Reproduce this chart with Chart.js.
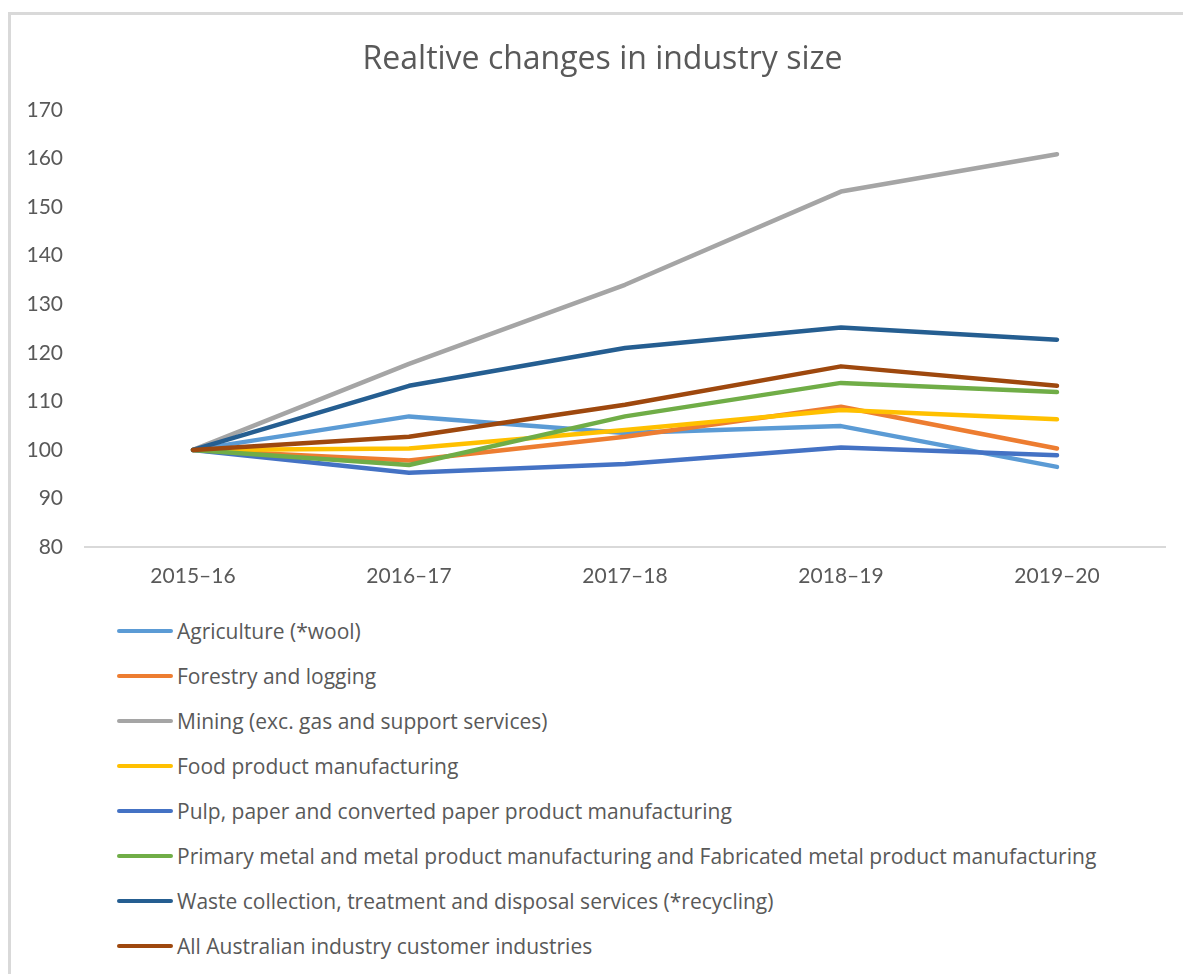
<!DOCTYPE html>
<html>
<head>
<meta charset="utf-8">
<script src="https://cdn.jsdelivr.net/npm/chart.js@4/dist/chart.umd.min.js"></script>
<style>
  html, body { margin: 0; padding: 0; background: #fff; }
  body { width: 1183px; height: 974px; position: relative; overflow: hidden; }
  #frame {
    position: absolute; left: 8px; top: 12px; right: -10px; bottom: -10px;
    border-top: 3px solid #d9d9d9; border-left: 3px solid #d9d9d9;
  }
  #wrap { position: absolute; left: 0; top: 0; width: 1183px; height: 600px; }
  #legend { position: absolute; left: 117px; top: 608px; margin: 0; padding: 0; list-style: none; }
  #legend li {
    height: 45px; display: flex; align-items: center; color: #595959;
    font-family: "Open Sans", Lato, sans-serif; font-size: 21px; white-space: nowrap;
  }
  #legend li span.swatch { display: inline-block; width: 56px; height: 4px; border-radius: 2px; margin-right: 4px; }
</style>
</head>
<body>
<div id="frame"></div>
<div id="wrap"><canvas id="industryChart"></canvas></div>
<ul id="legend"></ul>
<script>
// Categorías (años financieros)
const years = ['2015–16', '2016–17', '2017–18', '2018–19', '2019–20'];

// Índice relativo (2015–16 = 100) por industria
const agriculture = [100, 106.9, 103.5, 104.9, 96.5];
const forestry    = [100, 97.8, 102.7, 108.9, 100.3];
const mining      = [100, 117.7, 134.0, 153.2, 160.9];
const food        = [100, 100.3, 104.1, 108.2, 106.3];
const pulpPaper   = [100, 95.3, 97.1, 100.5, 98.9];
const metals      = [100, 96.9, 106.9, 113.8, 111.9];
const waste       = [100, 113.2, 121.0, 125.2, 122.7];
const allIndustry = [100, 102.7, 109.3, 117.2, 113.2];

const seriesNames = [
  'Agriculture (*wool)',
  'Forestry and logging',
  'Mining (exc. gas and support services)',
  'Food product manufacturing',
  'Pulp, paper and converted paper product manufacturing',
  'Primary metal and metal product manufacturing and Fabricated metal product manufacturing',
  'Waste collection, treatment and disposal services (*recycling)',
  'All Australian industry customer industries'
];
const seriesValues = [agriculture, forestry, mining, food, pulpPaper, metals, waste, allIndustry];
const seriesColors = ['#5B9BD5', '#ED7D31', '#A5A5A5', '#FFC000', '#4472C4', '#70AD47', '#255E91', '#9E480E'];

const textColor = '#595959';
const tickFont = 'Lato, "Open Sans", sans-serif';
const titleFont = '"Open Sans", Lato, sans-serif';

const datasets = seriesNames.map((name, i) => ({
  label: name,
  data: seriesValues[i],
  borderColor: seriesColors[i],
  backgroundColor: seriesColors[i],
  borderWidth: 4.5,
  borderCapStyle: 'round',
  borderJoinStyle: 'round',
  pointRadius: 0,
  tension: 0,
  // las últimas series se dibujan encima
  order: seriesNames.length - i
}));

// Centra el título sobre el marco y no sobre el lienzo
const shiftTitle = {
  id: 'shiftTitle',
  afterLayout(chart) {
    if (chart.titleBlock) chart.titleBlock.left += 40;
  }
};

const ctx = document.getElementById('industryChart').getContext('2d');
const chart = new Chart(ctx, {
  type: 'line',
  data: { labels: years, datasets: datasets },
  plugins: [shiftTitle],
  options: {
    responsive: true,
    maintainAspectRatio: false,
    animation: false,
    layout: { padding: { left: 0, right: 18, top: 0, bottom: 0 } },
    plugins: {
      legend: { display: false },
      tooltip: { enabled: false },
      title: {
        display: true,
        text: 'Realtive changes in industry size',
        color: textColor,
        font: { family: titleFont, size: 32, weight: 'normal' },
        padding: { top: 41, bottom: 30.6 }
      }
    },
    scales: {
      x: {
        offset: true,
        grid: { display: false, drawTicks: false },
        border: { display: true, color: '#d9d9d9', width: 2 },
        ticks: {
          color: textColor,
          font: { family: tickFont, size: 21 },
          padding: 17,
          maxRotation: 0
        },
        afterFit: (scale) => { scale.height = 53; }
      },
      y: {
        min: 80,
        max: 170,
        grid: { display: false, drawTicks: false },
        border: { display: false },
        ticks: {
          stepSize: 10,
          color: textColor,
          font: { family: tickFont, size: 21 },
          padding: 22
        },
        afterFit: (scale) => { scale.width = 85; }
      }
    }
  }
});

// Leyenda en una sola columna, debajo del gráfico
const legendEl = document.getElementById('legend');
chart.data.datasets.forEach(ds => {
  const li = document.createElement('li');
  const swatch = document.createElement('span');
  swatch.className = 'swatch';
  swatch.style.background = ds.borderColor;
  li.appendChild(swatch);
  li.appendChild(document.createTextNode(ds.label));
  legendEl.appendChild(li);
});
</script>
</body>
</html>
